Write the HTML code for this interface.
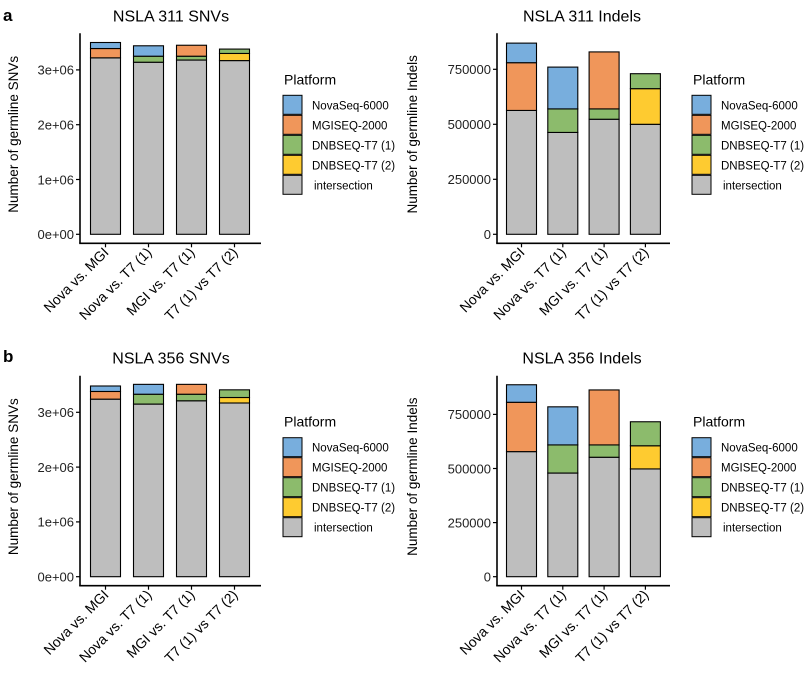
<!DOCTYPE html>
<html><head><meta charset="utf-8"><style>
body{margin:0;background:#fff;}
svg{display:block;font-family:"Liberation Sans",Arial,sans-serif;}
</style></head><body>
<svg id="c" width="807" height="678" viewBox="0 0 807 678"></svg>
<script>
const categories = ["Nova vs. MGI","Nova vs. T7 (1)","MGI vs. T7 (1)","T7 (1) vs T7 (2)"];
const seriesNames = ["intersection","DNBSEQ-T7 (2)","DNBSEQ-T7 (1)","MGISEQ-2000","NovaSeq-6000"];
const legendNames = ["NovaSeq-6000","MGISEQ-2000","DNBSEQ-T7 (1)","DNBSEQ-T7 (2)","intersection"];
const colors = {"intersection":"#bebebe","DNBSEQ-T7 (2)":"#fecb30","DNBSEQ-T7 (1)":"#8cbb6c","MGISEQ-2000":"#f0965a","NovaSeq-6000":"#78aedd"};
// panel a SNVs
const snv311Inter = [3220000,3140000,3180000,3170000];
const snv311T72 = [0,0,0,130000];
const snv311T71 = [0,110000,70000,80000];
const snv311Mgi = [170000,0,200000,0];
const snv311Nova = [110000,190000,0,0];
// panel a Indels
const ind311Inter = [563000,463000,523000,500000];
const ind311T72 = [0,0,0,162000];
const ind311T71 = [0,107000,47000,68000];
const ind311Mgi = [217000,0,259000,0];
const ind311Nova = [89000,190000,0,0];
// panel b SNVs
const snv356Inter = [3240000,3150000,3210000,3170000];
const snv356T72 = [0,0,0,100000];
const snv356T71 = [0,180000,120000,140000];
const snv356Mgi = [140000,0,180000,0];
const snv356Nova = [100000,180000,0,0];
// panel b Indels
const ind356Inter = [578000,479000,552000,498000];
const ind356T72 = [0,0,0,107000];
const ind356T71 = [0,130000,57000,111000];
const ind356Mgi = [228000,0,254000,0];
const ind356Nova = [81000,176000,0,0];
const snvTicks = [0,1000000,2000000,3000000];
const snvTickLabels = ["0e+00","1e+06","2e+06","3e+06"];
const indTicks = [0,250000,500000,750000];
const indTickLabels = ["0","250000","500000","750000"];

const svg = document.getElementById('c');
const NS = "http://www.w3.org/2000/svg";
function mk(tag, attrs, parent){const e=document.createElementNS(NS,tag);for(const k in attrs)e.setAttribute(k,attrs[k]);(parent||svg).appendChild(e);return e;}
function txt(s, attrs, parent){const e=mk('text',attrs,parent);e.textContent=s;return e;}

function panel(opts){
  const g = mk('g',{});
  
  
  const x0=opts.axisX, zeroY=opts.zeroY, pxPerUnit=opts.pxPerUnit;
  const yS = v => zeroY - v*pxPerUnit;
  const xC = i => opts.firstCenter + i*opts.step;
  const bw = 30;
  const t = txt(opts.title,{x:opts.titleX,y:opts.zeroY-213,'font-size':16,'text-anchor':'middle',fill:'#000'},g);
  
  
  const stacks=[opts.inter,opts.t72,opts.t71,opts.mgi,opts.nova];
  categories.forEach((c,i)=>{
    let base=0;
    stacks.forEach((arr,s)=>{
      const v=arr[i]; if(v<=0) return;
      const r=mk('rect',{x:xC(i)-bw/2,y:yS(base+v),width:bw,height:v*pxPerUnit,fill:colors[seriesNames[s]],stroke:'#000','stroke-width':1.1},g);
      
      
      base+=v;
    });
  });
  const ya=mk('line',{x1:x0,y1:zeroY-201,x2:x0,y2:zeroY+9,stroke:'#000','stroke-width':1.6},g);
  
  
  const xa=mk('line',{x1:x0-0.8,y1:zeroY+9,x2:opts.axisEnd,y2:zeroY+9,stroke:'#000','stroke-width':1.6},g);
  
  
  opts.ticks.forEach((v,k)=>{
    mk('line',{x1:x0-4,y1:yS(v),x2:x0,y2:yS(v),stroke:'#000','stroke-width':1.2},g);
    const tl=txt(opts.tickLabels[k],{x:x0-6,y:yS(v)+4.8,'font-size':13,'text-anchor':'end',fill:'#222'},g);
    
    
  });
  categories.forEach((c,i)=>{
    mk('line',{x1:xC(i),y1:zeroY+9,x2:xC(i),y2:zeroY+13,stroke:'#000','stroke-width':1.2},g);
    const cx=xC(i)+4, cy=zeroY+19;
    const tl=txt(c,{x:cx,y:cy,'font-size':14,'text-anchor':'end',fill:'#000',transform:`rotate(-45 ${cx} ${cy})`},g);
    
    
  });
  const yl=txt(opts.yTitle,{x:0,y:0,'font-size':13.5,'text-anchor':'middle',fill:'#000',transform:`translate(${opts.yTitleX},${zeroY-100}) rotate(-90)`},g);
  
  
  const lg=mk('g',{},g);
  
  
  const lx=opts.legendX, ly=zeroY-150;
  txt('Platform',{x:lx+1,y:ly,'font-size':14,fill:'#000'},lg);
  legendNames.forEach((n,k)=>{
    const e=mk('g',{},lg);
    
    
    mk('rect',{x:lx,y:ly+11+k*20,width:19,height:19,fill:colors[n],stroke:'#000','stroke-width':1},e);
    txt(n,{x:lx+29+(n==='intersection'?2:0),y:ly+25+k*20,'font-size':11.5,fill:'#000'},e);
  });
}
const snvScale = 54.8/1000000, indScale = 55.0/250000;
panel({name:'panel-a-snvs',title:'NSLA 311 SNVs',titleX:171,axisX:80,axisEnd:261,zeroY:234.3,pxPerUnit:snvScale,firstCenter:105.5,step:43,inter:snv311Inter,t72:snv311T72,t71:snv311T71,mgi:snv311Mgi,nova:snv311Nova,ticks:snvTicks,tickLabels:snvTickLabels,yTitle:'Number of germline SNVs',yTitleX:18,legendX:283});
panel({name:'panel-a-indels',title:'NSLA 311 Indels',titleX:582,axisX:497,axisEnd:670,zeroY:234.3,pxPerUnit:indScale,firstCenter:521.5,step:41.3,inter:ind311Inter,t72:ind311T72,t71:ind311T71,mgi:ind311Mgi,nova:ind311Nova,ticks:indTicks,tickLabels:indTickLabels,yTitle:'Number of germline Indels',yTitleX:417,legendX:692});
panel({name:'panel-b-snvs',title:'NSLA 356 SNVs',titleX:171,axisX:80,axisEnd:261,zeroY:576.7,pxPerUnit:snvScale,firstCenter:105.5,step:43,inter:snv356Inter,t72:snv356T72,t71:snv356T71,mgi:snv356Mgi,nova:snv356Nova,ticks:snvTicks,tickLabels:snvTickLabels,yTitle:'Number of germline SNVs',yTitleX:18,legendX:283});
panel({name:'panel-b-indels',title:'NSLA 356 Indels',titleX:582,axisX:497,axisEnd:670,zeroY:576.7,pxPerUnit:54.1/250000,firstCenter:521.5,step:41.3,inter:ind356Inter,t72:ind356T72,t71:ind356T71,mgi:ind356Mgi,nova:ind356Nova,ticks:indTicks,tickLabels:indTickLabels,yTitle:'Number of germline Indels',yTitleX:417,legendX:692});
const la=txt('a',{x:3,y:21,'font-size':17,'font-weight':'bold',fill:'#000'});


const lb=txt('b',{x:3,y:362,'font-size':17,'font-weight':'bold',fill:'#000'});


</script>
</body></html>
